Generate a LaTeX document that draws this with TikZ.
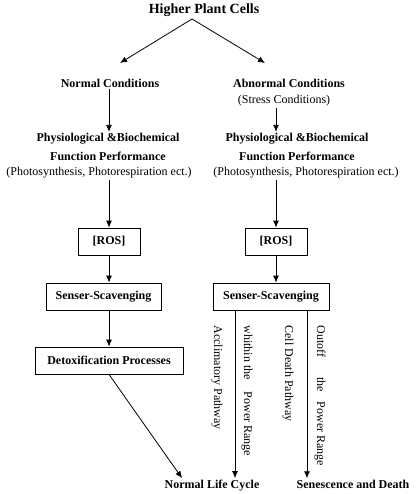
\documentclass[tikz,border=0pt]{standalone}
\usepackage{fontspec}
\setmainfont{Liberation Serif}
\usetikzlibrary{positioning,arrows.meta}

\begin{document}
\begin{tikzpicture}[x=1pt,y=-1pt,>={Latex[length=7pt,width=6pt]},line width=0.8pt,
	lbl/.style={font=\bfseries\fontsize{12}{19}\selectfont,align=center,inner sep=1pt},
	sub/.style={font=\fontsize{12}{14}\selectfont,inner sep=1pt},
	box/.style={draw,font=\bfseries\fontsize{12}{14}\selectfont,minimum height=27pt,inner sep=0pt},
	vlbl/.style={font=\fontsize{12}{14}\selectfont,rotate=-90,anchor=west,inner sep=0pt}]
	\useasboundingbox (0,0) rectangle (415,494);
	\node[lbl,font=\bfseries\fontsize{14}{16}\selectfont] (cells) at (204,10) {Higher Plant Cells};
	\node[lbl] (nc) at (110,83) {Normal Conditions};
	\node[lbl] (ac) at (289,83) {Abnormal Conditions};
	\node[sub] (sc) at (284,101) {(Stress Conditions)};
	\node[lbl] (physL) at (108,147) {Physiological \&Biochemical\\Function Performance};
	\node[lbl] (physR) at (297,147) {Physiological \&Biochemical\\Function Performance};
	\node[sub] (photoL) at (99,173) {(Photosynthesis, Photorespiration ect.)};
	\node[sub] (photoR) at (306,173) {(Photosynthesis, Photorespiration ect.)};
	\node[box,minimum width=62pt] (rosL) at (109,241.5) {[ROS]};
	\node[box,minimum width=62pt] (rosR) at (276,241.5) {[ROS]};
	\node[box,minimum width=115pt] (senL) at (103.5,296.5) {Senser-Scavenging};
	\node[box,minimum width=116pt] (senR) at (271,296.5) {Senser-Scavenging};
	\node[box,minimum width=148pt] (detox) at (109,360.5) {Detoxification Processes};
	\node[lbl,anchor=base] (life) at (212,488) {Normal Life Cycle};
	\node[lbl,anchor=base] (death) at (353,488) {Senescence and Death};
	% pathway labels
	\node[vlbl] (acc) at (217,325) {Acclimatory Pathway};
	\node[vlbl] (within) at (247,325) {whithin the\hspace{12pt}Power Range};
	\node[vlbl] (cdp) at (288,325) {Cell Death Pathway};
	\node[vlbl] (outof) at (320,325) {Outoff\hspace{20pt}the\hspace{10pt}Power Range};
	\coordinate (apex) at (192,19);
	\coordinate (ncIn) at (120,63);
	\coordinate (acIn) at (265,63);
	\draw [->] (apex) to (ncIn);
	\draw [->] (apex) to (acIn);
	\draw [->] (nc.south -| rosL) to (physL.north -| rosL);
	\draw [->] (sc.south -| rosR) to (physR.north -| rosR);
	\draw [->] (photoL.south -| rosL) to (rosL);
	\draw [->] (photoR.south -| rosR) to (rosR);
	\draw [->] (rosL) to (senL.north -| rosL);
	\draw [->] (rosR) to (senR.north -| rosR);
	\draw [->] (senL.south -| detox) to (detox);
	\draw [->] (detox.south) to ([xshift=-30pt]life.north);
	\draw [->] ([xshift=-36pt]senR.south) to ([xshift=-36pt]senR.south |- life.north);
	\draw [->] ([xshift=36pt]senR.south) to ([xshift=36pt]senR.south |- death.north);
\end{tikzpicture}
\end{document}
